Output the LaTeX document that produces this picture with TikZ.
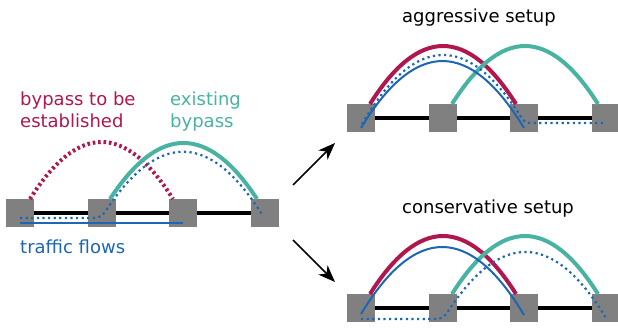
\documentclass[tikz,border=0pt]{standalone}
\usepackage{fontspec}
\setmainfont{DejaVu Sans}
\usetikzlibrary{arrows.meta,backgrounds}
\definecolor{cred}{HTML}{B0174F}
\definecolor{cteal}{HTML}{48B3A3}
\definecolor{cblue}{HTML}{1B67B5}
\definecolor{cgray}{HTML}{808080}
\begin{document}
\begin{tikzpicture}[x=1pt,y=-1pt,
  sq/.style={fill=cgray, minimum size=28pt, inner sep=0pt, draw=none},
  link/.style={line width=4.5pt, black},
  redarc/.style={line width=4pt, cred},
  reddot/.style={line width=4pt, cred, dash pattern=on 2.6pt off 2.8pt},
  tealarc/.style={line width=4pt, cteal},
  blueline/.style={line width=2pt, cblue},
  bluedot/.style={line width=2.2pt, cblue, dash pattern=on 2.2pt off 3.4pt},
  lbl/.style={inner sep=0pt, font=\fontsize{18}{22}\selectfont},
  arr/.style={line width=1.5pt, -{Stealth[length=17pt,width=13pt,inset=5pt]}}]
\useasboundingbox (0,0) rectangle (618,329);

% ---------- left diagram ----------
\node[sq] (l1) at (20,213) {};
\node[sq] (l2) at (102,213) {};
\node[sq] (l3) at (183,213) {};
\node[sq] (l4) at (265,213) {};
\coordinate (lr1) at (30,199);
\coordinate (lr2) at (173,199);
\coordinate (lt1) at (110,199);
\coordinate (lt2) at (257,199);
\coordinate (lb1) at (20,218);
\coordinate (lb2) at (263,216);
\coordinate (ls1) at (20,223);
\coordinate (ls2) at (183,223);

% ---------- top right ----------
\node[sq] (a1) at (361,118) {};
\node[sq] (a2) at (443,118) {};
\node[sq] (a3) at (524,118) {};
\node[sq] (a4) at (606,118) {};
\coordinate (ar1) at (370,104);
\coordinate (ar2) at (516,104);
\coordinate (at1) at (452,104);
\coordinate (at2) at (598,104);
\coordinate (as1) at (361,128);
\coordinate (as2) at (524,128);
\coordinate (ad1) at (362,124);
\coordinate (ad2) at (606,123);

% ---------- bottom right ----------
\node[sq] (b1) at (361,308) {};
\node[sq] (b2) at (443,308) {};
\node[sq] (b3) at (524,308) {};
\node[sq] (b4) at (606,308) {};
\coordinate (br1) at (370,294);
\coordinate (br2) at (516,294);
\coordinate (bt1) at (452,294);
\coordinate (bt2) at (598,294);
\coordinate (bs1) at (361,314);
\coordinate (bs2) at (524,315);
\coordinate (bd1) at (361,319);
\coordinate (bd2) at (606,318);

% links behind squares
\begin{scope}[on background layer]
\draw[link] (l1.center) -- (l2.center) -- (l3.center) -- (l4.center);
\draw[link] (a1.center) -- (a2.center) -- (a3.center) -- (a4.center);
\draw[link] (b1.center) -- (b2.center) -- (b3.center) -- (b4.center);
\end{scope}

% left arcs
\draw[reddot] (lr1) .. controls (77.7,123) and (125.3,123) .. (lr2);
\draw[tealarc] (lt1) .. controls (159,124.3) and (208,124.3) .. (lt2);
\draw[bluedot] (lb1) -- (95,218) .. controls (99,218) and (103.4,214.5) .. (105,212)
  .. controls (158,131) and (210,131) .. (lb2);
\draw[blueline] (ls1) -- (ls2);

% top right arcs
\draw[redarc] (ar1) .. controls (418.7,26.7) and (467.3,26.7) .. (ar2);
\draw[tealarc] (at1) .. controls (500.7,26.7) and (549.3,26.7) .. (at2);
\draw[blueline] (as1) .. controls (415.3,38.7) and (469.7,38.7) .. (as2);
\draw[bluedot] (ad1) .. controls (415,33.2) and (468,33.2) .. (521,117)
  .. controls (522.6,119.5) and (525,123) .. (530,123) -- (ad2);

% bottom right arcs
\draw[redarc] (br1) .. controls (418.7,216.7) and (467.3,216.7) .. (br2);
\draw[tealarc] (bt1) .. controls (500.7,216.7) and (549.3,216.7) .. (bt2);
\draw[blueline] (bs1) .. controls (415,224.5) and (470,224.5) .. (bs2);
\draw[bluedot] (bd1) -- (437,319) .. controls (441,319) and (445.4,315.5) .. (447,313)
  .. controls (500,230.8) and (553,230.8) .. (bd2);

% arrows
\coordinate (u1) at (293,185);
\coordinate (u2) at (335,143);
\coordinate (v1) at (293,240);
\coordinate (v2) at (335,282);
\draw[arr] (u1) -- (u2);
\draw[arr] (v1) -- (v2);

% labels
\node[lbl, text=cred, align=left, anchor=north west] (tnew) at (20,91.3) {bypass to be\\established};
\node[lbl, text=cteal, align=left, anchor=north west] (texist) at (170,91.3) {existing\\bypass};
\node[lbl, text=cblue, anchor=base west] (tflow) at (20,253) {traffic flows};
\node[lbl, anchor=base west] (tagg) at (402,23) {aggressive setup};
\node[lbl, anchor=base west] (tcons) at (402,213) {conservative setup};
\end{tikzpicture}
\end{document}
